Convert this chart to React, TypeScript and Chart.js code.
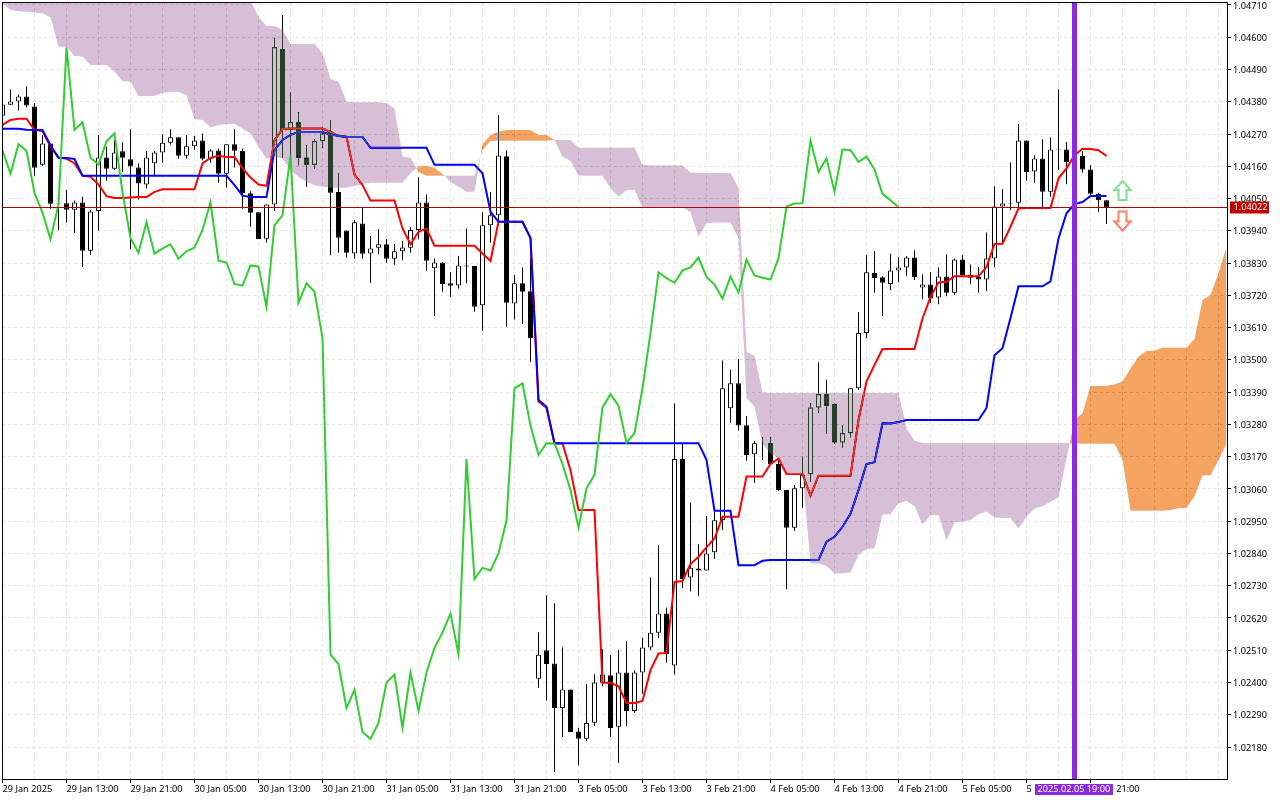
import React, { useEffect, useRef } from "react";
import { Chart, registerables } from "chart.js";

// All prices below are in points (1 point = 0.00001)
const open = [104332,104370,104381,104398,104364,104165,104238,104034,104034,104012,104037,103872,104008,104190,104152,104211,104184,104156,104098,104170,104207,104240,104259,104196,104228,104248,104186,104214,104135,104235,104212,104068,104003,103913,104030,104559,104284,104310,104190,104165,104245,104279,104072,103941,103863,103965,103863,103882,103894,103845,103870,103882,103943,104037,103812,103832,103761,103754,103822,103820,103686,103959,103993,104194,103692,103761,103734,102413,102510,102465,102313,102376,102233,102208,102263,102399,102425,102249,102434,102303,102434,102519,102570,102635,102458,103162,102758,102789,102782,102844,102954,103335,103420,103277,103178,103216,103216,103145,103056,102928,103062,103110,103338,103383,103350,103218,103250,103403,103592,103796,103782,103759,103805,103815,103849,103747,103757,103713,103784,103729,103842,103791,103783,103774,103846,104023,104032,104036,104248,104142,104187,104073,104217,104217,104175,104195,104149,104066,104044];
const high = [104386,104422,104405,104433,104375,104267,104238,104045,104079,104043,104056,104011,104267,104227,104250,104242,104286,104170,104212,104212,104269,104286,104259,104267,104263,104272,104218,104221,104235,104286,104221,104075,104003,104030,104597,104676,104412,104344,104232,104252,104295,104318,104137,103941,103977,104020,103922,103945,103912,103895,103905,103952,104123,104064,103846,103834,103799,103854,103948,103820,104003,104072,104335,104215,103789,103815,103846,102571,102698,102670,102519,102376,102246,102394,102428,102513,102493,102510,102541,102442,102553,102758,102868,102656,103352,103216,103014,102871,102968,102982,103498,103466,103502,103309,103223,103236,103236,103163,103056,103073,103170,103352,103492,103432,103350,103278,103403,103663,103857,103871,103785,103862,103851,103854,103874,103792,103799,103815,103860,103846,103857,103825,103817,103934,104092,104082,104173,104304,104248,104198,104252,104258,104423,104243,104230,104212,104164,104070,104044];
const low = [104332,104370,104350,104361,104128,104162,104015,103943,103968,103933,103817,103858,103940,104111,104147,104141,103878,104047,104084,104130,104172,104234,104186,104186,104217,104181,104172,104104,104088,104156,104015,103954,103912,103900,104008,104190,104159,104164,104090,104151,104223,103857,103865,103848,103845,103845,103763,103861,103831,103824,103840,103865,103911,103804,103650,103732,103715,103743,103761,103664,103599,103899,103971,103613,103638,103622,103493,102382,102339,102095,102214,102231,102118,102201,102252,102387,102214,102126,102252,102296,102362,102510,102552,102467,102428,102721,102710,102696,102782,102821,102920,103286,103259,103156,103081,103159,103142,103054,102718,102917,102996,103084,103320,103247,103213,103201,103235,103397,103575,103729,103650,103738,103765,103787,103772,103707,103694,103690,103717,103721,103783,103758,103729,103735,103817,103897,104011,104016,104111,104104,104013,104056,104147,104099,104120,104138,104062,104005,103963];
const close = [104371,104381,104398,104367,104155,104238,104032,104032,104012,104037,103872,104006,104190,104152,104207,104189,104159,104101,104190,104207,104240,104259,104196,104228,104248,104186,104214,104135,104235,104213,104069,104002,103912,104030,104566,104284,104310,104189,104165,104245,104272,104070,103916,103865,103969,103862,103880,103894,103845,103870,103883,103943,104037,103838,103832,103759,103753,103822,103818,103681,103959,103993,104197,103695,103761,103732,103575,102495,102463,102313,102376,102231,102208,102262,102400,102427,102245,102434,102303,102434,102519,102570,102635,102496,103162,102753,102791,102782,102840,102953,103403,103420,103276,103176,103216,103215,103145,103056,102928,103062,103108,103338,103383,103344,103218,103250,103403,103592,103799,103779,103763,103805,103815,103849,103783,103757,103709,103784,103729,103842,103788,103780,103774,103846,104023,104033,104034,104248,104141,104187,104073,104217,104216,104175,104193,104149,104066,104044,104020];
const tenkan = [104301,104318,104322,104322,104284,104280,104227,104190,104186,104170,104128,104124,104098,104058,104052,104052,104054,104055,104055,104073,104082,104082,104082,104082,104082,104170,104189,104196,104192,104192,104153,104122,104098,104093,104249,104287,104289,104289,104289,104289,104289,104277,104263,104261,104132,104096,104043,104043,104043,104043,103948,103894,103937,103948,103889,103889,103889,103889,103889,103889,103863,103837,103971,103971,103971,103971,103915,103358,103337,103215,103215,103124,102988,102988,102988,102399,102399,102387,102330,102330,102337,102442,102499,102501,102743,102746,102804,102829,102861,102891,102965,102965,102965,103102,103102,103102,103145,103163,103111,103111,103111,103037,103105,103105,103105,103105,103105,103295,103426,103483,103537,103537,103537,103537,103537,103641,103715,103764,103766,103785,103785,103785,103785,103817,103895,103896,103954,104016,104018,104018,104018,104018,104119,104153,104198,104220,104219,104215,104195];
const kijun = [104288,104288,104288,104285,104284,104284,104232,104189,104188,104185,104128,104128,104128,104128,104128,104128,104128,104128,104128,104128,104128,104128,104128,104128,104128,104128,104128,104128,104128,104096,104060,104055,104055,104055,104215,104250,104267,104277,104277,104277,104277,104268,104264,104260,104260,104260,104223,104223,104223,104223,104223,104223,104223,104223,104165,104165,104165,104165,104165,104165,104136,104005,103971,103971,103971,103971,103915,103363,103340,103216,103216,103216,103216,103216,103216,103216,103216,103216,103216,103216,103216,103216,103216,103216,103216,103216,103216,103216,103159,102986,102986,102986,102800,102800,102800,102815,102818,102818,102818,102818,102818,102818,102818,102880,102897,102931,102975,103056,103145,103151,103284,103283,103288,103295,103295,103295,103295,103295,103295,103295,103295,103295,103295,103336,103516,103540,103643,103751,103751,103751,103751,103768,103914,104000,104031,104038,104059,104059,104059];
const chikou = [104214,104135,104235,104213,104069,104002,103912,104030,104566,104284,104310,104189,104165,104245,104272,104070,103916,103865,103969,103862,103880,103894,103845,103870,103883,103943,104037,103838,103832,103759,103753,103822,103818,103681,103959,103993,104197,103695,103761,103732,103575,102495,102463,102313,102376,102231,102208,102262,102400,102427,102245,102434,102303,102434,102519,102570,102635,102496,103162,102753,102791,102782,102840,102953,103403,103420,103276,103176,103216,103215,103145,103056,102928,103062,103108,103338,103383,103344,103218,103250,103403,103592,103799,103779,103763,103805,103815,103849,103783,103757,103709,103784,103729,103842,103788,103780,103774,103846,104023,104033,104034,104248,104141,104187,104073,104217,104216,104175,104193,104149,104066,104044,104020];
const spanA = [104716,104693,104689,104687,104684,104682,104668,104568,104568,104536,104534,104505,104505,104505,104483,104451,104448,104400,104400,104400,104411,104413,104413,104403,104321,104318,104293,104300,104304,104304,104289,104272,104227,104187,104193,104187,104147,104124,104107,104096,104090,104087,104087,104087,104093,104099,104104,104104,104104,104104,104104,104136,104159,104161,104155,104134,104107,104090,104073,104073,104236,104267,104278,104284,104284,104284,104284,104267,104267,104250,104193,104179,104128,104128,104128,104128,104085,104057,104079,104079,104020,104020,104020,104020,104020,104020,104003,103920,103966,103968,103968,103968,103915,103370,103341,103215,103181,103164,103111,103111,103111,102806,102806,102797,102772,102772,102775,102835,102855,102857,102973,102974,103011,103019,103001,102939,102970,102971,102885,102946,102949,102954,102974,102983,102963,102961,102961,102925,102965,102993,103001,103016,103031,103164,103295,103318,103411,103411,103412,103416,103426,103471,103511,103530,103531,103541,103541,103541,103541,103571,103704,103721,103795,103886];
const spanB = [104800,104800,104800,104800,104800,104800,104800,104800,104800,104800,104800,104800,104800,104800,104800,104800,104800,104800,104800,104800,104800,104800,104800,104800,104800,104800,104800,104800,104800,104800,104770,104725,104670,104638,104638,104625,104577,104577,104577,104577,104545,104458,104448,104380,104378,104378,104378,104378,104375,104357,104193,104189,104141,104128,104128,104128,104128,104128,104128,104128,104215,104246,104247,104247,104247,104247,104247,104247,104247,104250,104250,104250,104223,104223,104223,104223,104223,104223,104223,104223,104165,104163,104163,104163,104163,104163,104138,104137,104137,104137,104137,104137,104085,103528,103513,103389,103387,103387,103387,103387,103387,103387,103387,103387,103387,103387,103387,103387,103387,103387,103387,103387,103387,103266,103224,103216,103216,103216,103216,103216,103216,103216,103216,103216,103216,103216,103216,103216,103216,103216,103216,103216,103216,103216,103214,103214,103214,103214,103214,103214,103159,102986,102986,102986,102986,102986,102988,102994,102996,103033,103106,103107,103159,103213];
const priceTicks = [104710,104600,104490,104380,104270,104160,104050,103940,103830,103720,103610,103500,103390,103280,103170,103060,102950,102840,102730,102620,102510,102400,102290,102180];
const timeLabels = ["29 Jan 2025","29 Jan 13:00","29 Jan 21:00","30 Jan 05:00","30 Jan 13:00","30 Jan 21:00","31 Jan 05:00","31 Jan 13:00","31 Jan 21:00","3 Feb 05:00","3 Feb 13:00","3 Feb 21:00","4 Feb 05:00","4 Feb 13:00","4 Feb 21:00","5 Feb 05:00","5 Feb 13:00","5 Feb 21:00"];
const lastPrice = 104022;
const signalIndex = 134;
const signalLabel = "2025.02.05 19:00";
const arrowIndex = 140;
const arrowUpPrice = 104076;
const arrowDownPrice = 103975;

const FONT = '"Noto Sans"';
const FONT_SIZE = 9.2;
const pr = (p: number) => p / 100000;
const pts = (arr: number[]) => arr.map((v, i) => ({ x: i, y: pr(v) }));

const blendPlugin = {
  id: "blendCloud",
  beforeDraw(chart: any) {
    const { ctx, width, height } = chart;
    ctx.save();
    ctx.fillStyle = "#ffffff";
    ctx.fillRect(0, 0, width, height);
    ctx.restore();
  },
  beforeDatasetDraw(chart: any, args: any) {
    if (chart.data.datasets[args.index].label === "Span A") chart.ctx.globalCompositeOperation = "difference";
  },
  afterDatasetDraw(chart: any, args: any) {
    if (chart.data.datasets[args.index].label === "Span A") chart.ctx.globalCompositeOperation = "source-over";
  },
};

function arrow(ctx: CanvasRenderingContext2D, x: number, y: number, dir: number, color: string, inner: string) {
  const shape = [[-4, 9], [4, 9], [4, -1], [8, -1], [0, -10], [-8, -1], [-4, -1]];
  const trace = () => {
    ctx.beginPath();
    shape.forEach(([dx, dy], i) => {
      const px = x + dx;
      const py = y + dy * dir;
      if (i === 0) ctx.moveTo(px, py);
      else ctx.lineTo(px, py);
    });
    ctx.closePath();
  };
  ctx.save();
  trace();
  ctx.fillStyle = "#ffffff";
  ctx.fill();
  ctx.lineWidth = 2;
  ctx.strokeStyle = color;
  ctx.stroke();
  ctx.lineWidth = 0.7;
  ctx.strokeStyle = inner;
  ctx.stroke();
  ctx.restore();
}

const overlayPlugin = {
  id: "overlay",
  afterDatasetsDraw(chart: any) {
    const { ctx, chartArea: a, scales } = chart;
    const yLast = Math.round(scales.y.getPixelForValue(pr(lastPrice))) + 0.5;
    const xSig = scales.x.getPixelForValue(signalIndex);
    ctx.save();
    ctx.strokeStyle = "#b00000";
    ctx.lineWidth = 1;
    ctx.beginPath();
    ctx.moveTo(a.left, yLast);
    ctx.lineTo(a.right, yLast);
    ctx.stroke();
    ctx.strokeStyle = "#8a2be2";
    ctx.lineWidth = 5;
    ctx.beginPath();
    ctx.moveTo(xSig, a.top);
    ctx.lineTo(xSig, a.bottom);
    ctx.stroke();
    ctx.restore();
    const xA = scales.x.getPixelForValue(arrowIndex);
    arrow(ctx, xA, scales.y.getPixelForValue(pr(arrowUpPrice)), 1, "#6fe06f", "#a0e0c0");
    arrow(ctx, xA, scales.y.getPixelForValue(pr(arrowDownPrice)), -1, "#ff5a5a", "#ffb080");
  },
  afterDraw(chart: any) {
    const { ctx, chartArea: a, scales } = chart;
    ctx.save();
    ctx.strokeStyle = "#000000";
    ctx.lineWidth = 1;
    ctx.strokeRect(a.left + 0.5, a.top + 0.5, a.right - a.left, a.bottom - a.top);
    ctx.font = `${FONT_SIZE}px ${FONT}`;
    ctx.textBaseline = "middle";
    const yLast = Math.round(scales.y.getPixelForValue(pr(lastPrice))) + 0.5;
    ctx.fillStyle = "#c00000";
    ctx.fillRect(a.right + 3, yLast - 6, 39, 12);
    ctx.fillStyle = "#ffffff";
    ctx.textAlign = "left";
    ctx.fillText(pr(lastPrice).toFixed(5), a.right + 6.5, yLast);
    const xSig = scales.x.getPixelForValue(signalIndex);
    ctx.fillStyle = "#8a2be2";
    ctx.fillRect(xSig - 39.5, a.bottom + 5, 78, 11);
    ctx.fillStyle = "#ffffff";
    ctx.fillText(signalLabel, xSig - 37, a.bottom + 10.5);
    ctx.restore();
  },
};

Chart.register(blendPlugin, ...registerables);

export default function App() {
  const ref = useRef<HTMLCanvasElement>(null);
  useEffect(() => {
    const barBase = { type: "bar" as const, grouped: false, borderSkipped: false, inflateAmount: 0 };
    const lineBase = { type: "line" as const, pointRadius: 0, tension: 0, borderWidth: 2, fill: false };
    const chart = new Chart(ref.current!, {
      type: "bar",
      data: {
        datasets: [
          { ...barBase, label: "Range", order: 6, barThickness: 1, backgroundColor: "#000000", borderWidth: 0, data: open.map((_, i) => ({ x: i, y: [pr(low[i]), pr(high[i])] })) },
          { ...barBase, label: "Body", order: 5, barThickness: 5, borderWidth: 1, borderColor: "#000000", backgroundColor: open.map((o, i) => (close[i] >= o ? "#ffffff" : "#000000")), data: open.map((o, i) => ({ x: i, y: [pr(o), pr(close[i])] })) },
          { ...lineBase, label: "Tenkan", order: 4, borderColor: "#ff0000", data: pts(tenkan) },
          { ...lineBase, label: "Kijun", order: 3, borderColor: "#0000ff", data: pts(kijun) },
          { type: "line", label: "Span A", order: 2, pointRadius: 0, tension: 0, borderWidth: 0, borderColor: "transparent", fill: { target: "+1", above: "#0b5b9f", below: "#274027" }, data: pts(spanA) },
          { type: "line", label: "Span B", order: 2, pointRadius: 0, tension: 0, borderWidth: 0, borderColor: "transparent", fill: false, data: pts(spanB) },
          { ...lineBase, label: "Chikou", order: 1, borderColor: "#32cd32", data: pts(chikou) },
        ] as any,
      },
      plugins: [overlayPlugin],
      options: {
        responsive: false,
        animation: false,
        devicePixelRatio: 1,
        parsing: undefined,
        layout: { padding: { left: 2, top: 2, right: 0, bottom: 0 } },
        plugins: { legend: { display: false }, tooltip: { enabled: false } },
        scales: {
          x: {
            type: "linear",
            offset: false,
            min: -0.0625,
            max: 153.0625,
            grid: {
              offset: false,
              color: (c: any) => (c.tick && c.tick.value % 4 === 0 && c.tick.value > 0 ? "#e4e4e4" : "transparent"),
              tickColor: (c: any) => (c.tick && c.tick.value / 8 < timeLabels.length && c.tick.value % 8 === 0 ? "#000000" : "transparent"),
              tickLength: 4,
              tickBorderDash: [],
            },
            border: { color: "#000000", dash: [3, 3] },
            afterBuildTicks: (s: any) => {
              const t = [];
              for (let v = 0; v <= 152; v += 4) t.push({ value: v });
              s.ticks = t;
            },
            afterFit: (s: any) => {
              s.height = 21;
              s.paddingLeft = 0;
              s.paddingRight = 0;
            },
            ticks: {
              autoSkip: false,
              maxRotation: 0,
              minRotation: 0,
              align: "start",
              padding: 1,
              color: "#000000",
              font: { family: FONT, size: FONT_SIZE },
              callback: (v: any) => (v % 8 === 0 ? timeLabels[v / 8] ?? "" : ""),
            },
          },
          y: {
            type: "linear",
            position: "right",
            min: 1.02071,
            max: 1.047202,
            grid: { color: "#e4e4e4", tickColor: "#000000", tickLength: 4, tickBorderDash: [] },
            border: { color: "#000000", dash: [3, 3] },
            afterBuildTicks: (s: any) => {
              s.ticks = priceTicks.map((p) => ({ value: pr(p) }));
            },
            afterFit: (s: any) => {
              s.width = 53;
              s.paddingTop = 0;
              s.paddingBottom = 0;
            },
            ticks: {
              padding: 2,
              labelOffset: 1,
              color: "#000000",
              font: { family: FONT, size: FONT_SIZE },
              callback: (v: any) => Number(v).toFixed(5),
            },
          },
        },
      } as any,
    });
    return () => chart.destroy();
  }, []);
  return (
    <div style={{ position: "absolute", left: 0, top: 0, width: 1280, height: 800 }}>
      <canvas ref={ref} width={1280} height={800} style={{ display: "block" }} />
    </div>
  );
}
